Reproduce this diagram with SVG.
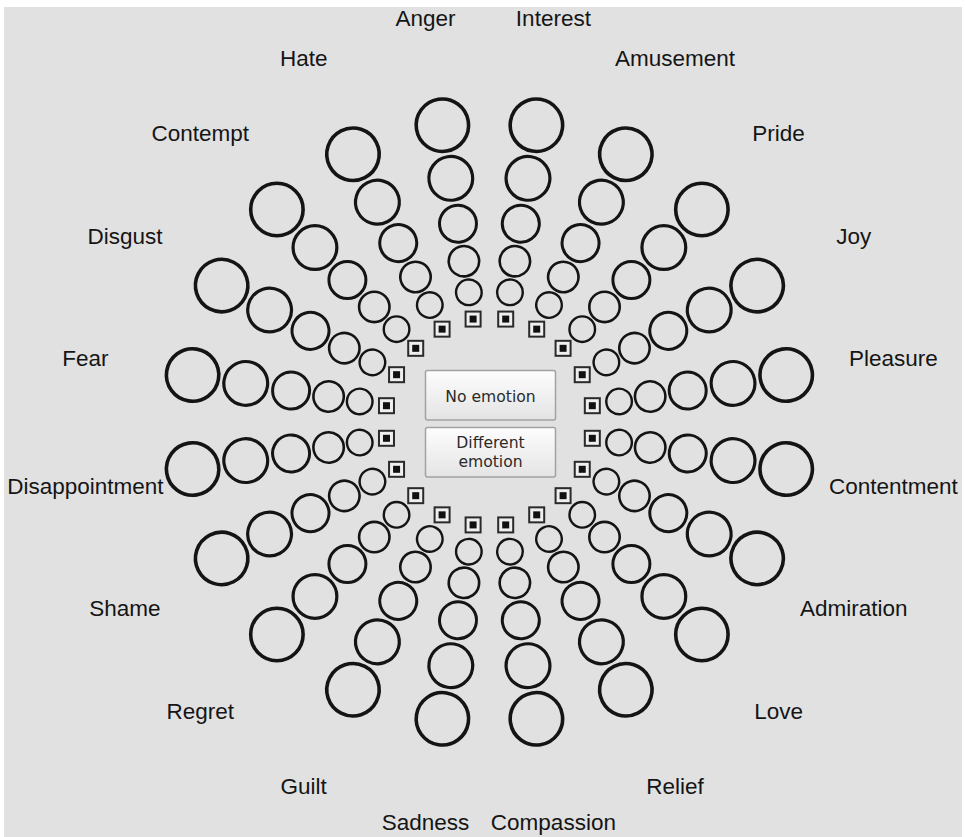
<svg xmlns="http://www.w3.org/2000/svg" width="965" height="837" viewBox="0 0 965 837">
<style>
.ring{fill:none;stroke:#141414}
.lbl{font-family:"Liberation Sans",Arial,sans-serif;font-size:22.5px;fill:#151515;text-anchor:middle}
.btn{fill:url(#btnGrad);stroke:#a2a2a2;stroke-width:1.5}
.btxt{font-family:"DejaVu Sans","Liberation Sans",sans-serif;font-size:15.6px;fill:#2a2a2a;text-anchor:middle}
</style>
<defs>
<linearGradient id="btnGrad" x1="0" y1="0" x2="0" y2="1">
<stop offset="0" stop-color="#fdfdfd"/>
<stop offset="1" stop-color="#e4e4e4"/>
</linearGradient>
<g id="rings">
<circle class="ring" cx="0" cy="-131.3" r="12.8" stroke-width="2.4"/>
<circle class="ring" cx="0" cy="-162.8" r="15.2" stroke-width="2.6"/>
<circle class="ring" cx="0" cy="-200.8" r="18.5" stroke-width="3"/>
<circle class="ring" cx="0" cy="-246.7" r="21.9" stroke-width="3.2"/>
<circle class="ring" cx="0" cy="-300.5" r="26.2" stroke-width="3.6"/>
</g>
<g id="sq">
<rect x="-7.5" y="-7.5" width="15" height="15" fill="#efefef" stroke="#2a2a2a" stroke-width="2"/>
<rect x="-3.5" y="-3.5" width="7" height="7" fill="#111"/>
</g>
</defs>
<rect x="0" y="0" width="965" height="837" fill="#ffffff"/>
<rect x="4" y="7" width="958" height="830" fill="#e1e1e1"/>

<g id="spoke-interest">
<use href="#rings" transform="translate(489.4 422) rotate(9)"/>
<use href="#sq" transform="translate(489.4 422) rotate(9) translate(0 -104.2) rotate(-9)"/>
<text class="lbl" transform="translate(489.4 422) rotate(9) translate(0 -409) rotate(-9)" y="8">Interest</text>
</g>
<g id="spoke-amusement">
<use href="#rings" transform="translate(489.4 422) rotate(27)"/>
<use href="#sq" transform="translate(489.4 422) rotate(27) translate(0 -104.2) rotate(-27)"/>
<text class="lbl" transform="translate(489.4 422) rotate(27) translate(0 -409) rotate(-27)" y="8">Amusement</text>
</g>
<g id="spoke-pride">
<use href="#rings" transform="translate(489.4 422) rotate(45)"/>
<use href="#sq" transform="translate(489.4 422) rotate(45) translate(0 -104.2) rotate(-45)"/>
<text class="lbl" transform="translate(489.4 422) rotate(45) translate(0 -409) rotate(-45)" y="8">Pride</text>
</g>
<g id="spoke-joy">
<use href="#rings" transform="translate(489.4 422) rotate(63)"/>
<use href="#sq" transform="translate(489.4 422) rotate(63) translate(0 -104.2) rotate(-63)"/>
<text class="lbl" transform="translate(489.4 422) rotate(63) translate(0 -409) rotate(-63)" y="8">Joy</text>
</g>
<g id="spoke-pleasure">
<use href="#rings" transform="translate(489.4 422) rotate(81)"/>
<use href="#sq" transform="translate(489.4 422) rotate(81) translate(0 -104.2) rotate(-81)"/>
<text class="lbl" transform="translate(489.4 422) rotate(81) translate(0 -409) rotate(-81)" y="8">Pleasure</text>
</g>
<g id="spoke-contentment">
<use href="#rings" transform="translate(489.4 422) rotate(99)"/>
<use href="#sq" transform="translate(489.4 422) rotate(99) translate(0 -104.2) rotate(-99)"/>
<text class="lbl" transform="translate(489.4 422) rotate(99) translate(0 -409) rotate(-99)" y="8">Contentment</text>
</g>
<g id="spoke-admiration">
<use href="#rings" transform="translate(489.4 422) rotate(117)"/>
<use href="#sq" transform="translate(489.4 422) rotate(117) translate(0 -104.2) rotate(-117)"/>
<text class="lbl" transform="translate(489.4 422) rotate(117) translate(0 -409) rotate(-117)" y="8">Admiration</text>
</g>
<g id="spoke-love">
<use href="#rings" transform="translate(489.4 422) rotate(135)"/>
<use href="#sq" transform="translate(489.4 422) rotate(135) translate(0 -104.2) rotate(-135)"/>
<text class="lbl" transform="translate(489.4 422) rotate(135) translate(0 -409) rotate(-135)" y="8">Love</text>
</g>
<g id="spoke-relief">
<use href="#rings" transform="translate(489.4 422) rotate(153)"/>
<use href="#sq" transform="translate(489.4 422) rotate(153) translate(0 -104.2) rotate(-153)"/>
<text class="lbl" transform="translate(489.4 422) rotate(153) translate(0 -409) rotate(-153)" y="8">Relief</text>
</g>
<g id="spoke-compassion">
<use href="#rings" transform="translate(489.4 422) rotate(171)"/>
<use href="#sq" transform="translate(489.4 422) rotate(171) translate(0 -104.2) rotate(-171)"/>
<text class="lbl" transform="translate(489.4 422) rotate(171) translate(0 -409) rotate(-171)" y="4">Compassion</text>
</g>
<g id="spoke-sadness">
<use href="#rings" transform="translate(489.4 422) rotate(189)"/>
<use href="#sq" transform="translate(489.4 422) rotate(189) translate(0 -104.2) rotate(-189)"/>
<text class="lbl" transform="translate(489.4 422) rotate(189) translate(0 -409) rotate(-189)" y="4">Sadness</text>
</g>
<g id="spoke-guilt">
<use href="#rings" transform="translate(489.4 422) rotate(207)"/>
<use href="#sq" transform="translate(489.4 422) rotate(207) translate(0 -104.2) rotate(-207)"/>
<text class="lbl" transform="translate(489.4 422) rotate(207) translate(0 -409) rotate(-207)" y="8">Guilt</text>
</g>
<g id="spoke-regret">
<use href="#rings" transform="translate(489.4 422) rotate(225)"/>
<use href="#sq" transform="translate(489.4 422) rotate(225) translate(0 -104.2) rotate(-225)"/>
<text class="lbl" transform="translate(489.4 422) rotate(225) translate(0 -409) rotate(-225)" y="8">Regret</text>
</g>
<g id="spoke-shame">
<use href="#rings" transform="translate(489.4 422) rotate(243)"/>
<use href="#sq" transform="translate(489.4 422) rotate(243) translate(0 -104.2) rotate(-243)"/>
<text class="lbl" transform="translate(489.4 422) rotate(243) translate(0 -409) rotate(-243)" y="8">Shame</text>
</g>
<g id="spoke-disappointment">
<use href="#rings" transform="translate(489.4 422) rotate(261)"/>
<use href="#sq" transform="translate(489.4 422) rotate(261) translate(0 -104.2) rotate(-261)"/>
<text class="lbl" transform="translate(489.4 422) rotate(261) translate(0 -409) rotate(-261)" y="8">Disappointment</text>
</g>
<g id="spoke-fear">
<use href="#rings" transform="translate(489.4 422) rotate(279)"/>
<use href="#sq" transform="translate(489.4 422) rotate(279) translate(0 -104.2) rotate(-279)"/>
<text class="lbl" transform="translate(489.4 422) rotate(279) translate(0 -409) rotate(-279)" y="8">Fear</text>
</g>
<g id="spoke-disgust">
<use href="#rings" transform="translate(489.4 422) rotate(297)"/>
<use href="#sq" transform="translate(489.4 422) rotate(297) translate(0 -104.2) rotate(-297)"/>
<text class="lbl" transform="translate(489.4 422) rotate(297) translate(0 -409) rotate(-297)" y="8">Disgust</text>
</g>
<g id="spoke-contempt">
<use href="#rings" transform="translate(489.4 422) rotate(315)"/>
<use href="#sq" transform="translate(489.4 422) rotate(315) translate(0 -104.2) rotate(-315)"/>
<text class="lbl" transform="translate(489.4 422) rotate(315) translate(0 -409) rotate(-315)" y="8">Contempt</text>
</g>
<g id="spoke-hate">
<use href="#rings" transform="translate(489.4 422) rotate(333)"/>
<use href="#sq" transform="translate(489.4 422) rotate(333) translate(0 -104.2) rotate(-333)"/>
<text class="lbl" transform="translate(489.4 422) rotate(333) translate(0 -409) rotate(-333)" y="8">Hate</text>
</g>
<g id="spoke-anger">
<use href="#rings" transform="translate(489.4 422) rotate(351)"/>
<use href="#sq" transform="translate(489.4 422) rotate(351) translate(0 -104.2) rotate(-351)"/>
<text class="lbl" transform="translate(489.4 422) rotate(351) translate(0 -409) rotate(-351)" y="8">Anger</text>
</g>

<g id="btn-no-emotion">
<rect class="btn" x="425.5" y="370.5" width="130" height="49.5" rx="2"/>
<text class="btxt" x="490.5" y="401.5">No emotion</text>
</g>
<g id="btn-different-emotion">
<rect class="btn" x="425.5" y="427.5" width="130" height="49.5" rx="2"/>
<text class="btxt" x="490.5" y="448.3">Different</text>
<text class="btxt" x="490.5" y="466.7">emotion</text>
</g>
<g id="connectors"/>
</svg>
